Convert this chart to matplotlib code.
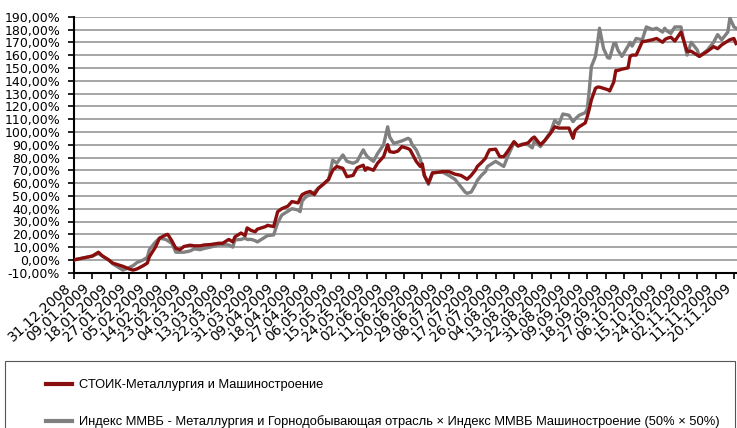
import matplotlib
matplotlib.use("Agg")
import matplotlib.pyplot as plt
from matplotlib.ticker import FuncFormatter, MultipleLocator
from matplotlib.lines import Line2D
from matplotlib.patches import Rectangle
from matplotlib import font_manager
import pandas as pd

dates = [
    "2008-12-31", "2009-01-03", "2009-01-06", "2009-01-09", "2009-01-12", "2009-01-14",
    "2009-01-17", "2009-01-19", "2009-01-22", "2009-01-24", "2009-01-27", "2009-01-29",
    "2009-01-31", "2009-02-03", "2009-02-05", "2009-02-06", "2009-02-09", "2009-02-11",
    "2009-02-14", "2009-02-15", "2009-02-17", "2009-02-19", "2009-02-21", "2009-02-23",
    "2009-02-26", "2009-02-28", "2009-03-03", "2009-03-05", "2009-03-08", "2009-03-12",
    "2009-03-14", "2009-03-17", "2009-03-19", "2009-03-20", "2009-03-23", "2009-03-25",
    "2009-03-26", "2009-03-28", "2009-03-30", "2009-03-31", "2009-04-02", "2009-04-04",
    "2009-04-05", "2009-04-08", "2009-04-10", "2009-04-12", "2009-04-15", "2009-04-17",
    "2009-04-20", "2009-04-21", "2009-04-22", "2009-04-24", "2009-04-26", "2009-04-28",
    "2009-04-30", "2009-05-02", "2009-05-05", "2009-05-07", "2009-05-09", "2009-05-12",
    "2009-05-14", "2009-05-17", "2009-05-19", "2009-05-22", "2009-05-23", "2009-05-24",
    "2009-05-27", "2009-05-29", "2009-06-01", "2009-06-03", "2009-06-04", "2009-06-06",
    "2009-06-08", "2009-06-10", "2009-06-13", "2009-06-14", "2009-06-15", "2009-06-17",
    "2009-06-19", "2009-06-20", "2009-06-21", "2009-06-23", "2009-06-25", "2009-06-28",
    "2009-06-30", "2009-07-03", "2009-07-06", "2009-07-09", "2009-07-11", "2009-07-12",
    "2009-07-14", "2009-07-16", "2009-07-17", "2009-07-19", "2009-07-21", "2009-07-22",
    "2009-07-23", "2009-07-26", "2009-07-28", "2009-07-30", "2009-08-01", "2009-08-04",
    "2009-08-06", "2009-08-08", "2009-08-11", "2009-08-13", "2009-08-14", "2009-08-17",
    "2009-08-19", "2009-08-22", "2009-08-24", "2009-08-26", "2009-08-28", "2009-08-31",
    "2009-09-02", "2009-09-03", "2009-09-05", "2009-09-08", "2009-09-09", "2009-09-10",
    "2009-09-11", "2009-09-13", "2009-09-14", "2009-09-15", "2009-09-17", "2009-09-19",
    "2009-09-20", "2009-09-22", "2009-09-23", "2009-09-24", "2009-09-26", "2009-09-29",
    "2009-09-30", "2009-10-01", "2009-10-03", "2009-10-06", "2009-10-08", "2009-10-11",
    "2009-10-13", "2009-10-16", "2009-10-17", "2009-10-18", "2009-10-20", "2009-10-22",
    "2009-10-25", "2009-10-26", "2009-10-28", "2009-10-30", "2009-11-02", "2009-11-03",
    "2009-11-07", "2009-11-10", "2009-11-12", "2009-11-14", "2009-11-17", "2009-11-18",
    "2009-11-20", "2009-11-21",
]

stoik = [
    0, 1, 2, 3, 6, 3,
    0, -2.5, -4, -5, -7, -8,
    -7, -4.5, -2.5, 2.5, 10, 17,
    19.5, 20, 15, 9, 8, 10.5,
    11.5, 11, 11, 11.7, 12, 13,
    13, 16, 14, 18, 21, 19,
    25, 23, 22, 24, 25, 26,
    27, 26, 37.7, 40, 42, 45.6,
    44.5, 48, 51, 52.6, 53.5, 51,
    56, 58.6, 63, 70, 73, 71.5,
    65, 66, 72, 74, 70, 72,
    70, 75.5, 80.7, 90, 84.6, 84,
    85, 88.5, 87, 86, 83, 77,
    73, 75, 66, 60, 68, 68.5,
    69, 69, 67, 66, 64, 63,
    66, 70, 73, 76, 79.4, 83,
    86, 86.5, 80.7, 80.7, 85, 92.4,
    89, 90, 91.5, 95, 96, 90,
    93, 99, 104, 103, 103, 103,
    95, 101, 104, 107, 112, 118,
    125, 134, 135, 135, 134, 133,
    132, 139, 148, 148, 149, 150,
    159, 160, 160, 170.5, 171, 172,
    173, 170, 172, 173, 174, 171,
    178, 173, 163, 163, 160, 159,
    163, 166.6, 165, 168, 171, 172,
    173, 169,
]

micex = [
    0, 1, 2, 3, 5, 3,
    0, -3, -6, -8, -6, -4.5,
    -2, 0, 2, 8, 14, 17,
    16, 15, 13, 6, 6, 6,
    7, 8.6, 8, 9, 10, 11.7,
    12, 11.7, 10, 15.6, 16, 17,
    16, 16, 15, 14, 16, 18,
    19, 19.5, 29, 35, 38, 40,
    39, 37.7, 46, 49.5, 51, 53,
    56, 58.6, 62.5, 78, 75.5, 82,
    77, 75.5, 77, 86, 83, 80.7,
    77, 83, 90, 104, 96, 91,
    92, 93, 95, 94, 90, 86,
    79, 72, 66, 59, 68, 68.5,
    68.5, 66, 63, 57, 53, 52,
    53, 58.6, 62, 66, 69, 73,
    74, 77, 75, 73, 81, 91.5,
    89, 90.5, 90, 87.5, 93, 88.5,
    93, 100, 109, 106, 114, 113,
    108, 110, 113, 115, 118, 133,
    151, 159, 169, 181, 165, 158,
    157.6, 169, 169, 164, 159, 167,
    170, 167, 173, 172, 182, 180,
    181, 178, 181, 179, 177, 182,
    182, 174, 160, 170, 164, 159,
    164, 170, 176, 172, 178, 189,
    182, 181,
]

series_labels = [
    "СТОИК-Металлургия и Машиностроение",
    "Индекс ММВБ - Металлургия и Горнодобывающая отрасль × Индекс ММВБ Машиностроение (50% × 50%)",
]
colors = ["#8B0E0E", "#808080"]

start = pd.Timestamp("2008-12-31")
tick_dates = pd.date_range(start, "2009-11-20", freq="9D")
x = pd.to_datetime(dates)

W, H = 737, 428
fig = plt.figure(figsize=(W / 100, H / 100), dpi=100)
ax = fig.add_axes([74 / W, 1 - 272.7 / H, (W - 74) / W, (272.7 - 16.7) / H])

ax.plot(x, micex, color=colors[1], lw=2.4, solid_joinstyle="round", zorder=3)
ax.plot(x, stoik, color=colors[0], lw=2.4, solid_joinstyle="round", zorder=4)

ax.set_ylim(-10, 190)
ax.yaxis.set_major_locator(MultipleLocator(10))
ax.yaxis.set_major_formatter(FuncFormatter(lambda v, p: f"{v:.2f}".replace(".", ",") + "%"))
ax.set_xlim(start, start + pd.Timedelta(days=325.5))
ax.set_xticks(tick_dates)
ax.set_xticklabels([d.strftime("%d.%m.%Y") for d in tick_dates], rotation=42,
                   ha="right", va="top", rotation_mode="default")

ax.grid(axis="y", color="#A6A6A6", lw=1.4)
ax.set_axisbelow(True)
for s in ["top", "right"]:
    ax.spines[s].set_visible(False)
for s in ["left", "bottom"]:
    ax.spines[s].set_linewidth(1.5)
    ax.spines[s].set_color("black")
ax.tick_params(axis="both", direction="out", length=4, width=1.2,
               colors="black")
ax.tick_params(axis="y", pad=6, labelsize=9)
ax.tick_params(axis="x", pad=2, labelsize=10)

# legend font: prefer a narrow family
leg_family = "Liberation Sans"
for cand in ["Liberation Sans Narrow", "Liberation Sans"]:
    try:
        font_manager.findfont(cand, fallback_to_default=False)
        leg_family = cand
        break
    except Exception:
        continue

renderer = fig.canvas.get_renderer()
probe = fig.text(0, 0, series_labels[1], family=leg_family, size=10)
wpx = probe.get_window_extent(renderer).width
probe.remove()
leg_size = min(11, 10 * 645 / wpx)

fig.patches.append(Rectangle((5 / W, -0.1), 730 / W, 0.1 + (H - 361) / H,
                             transform=fig.transFigure, fill=False, ec="#555555",
                             lw=0.8, clip_on=False))
handles = [Line2D([], [], color=c, lw=3) for c in colors]
fig.legend(handles, series_labels, loc="upper left",
           bbox_to_anchor=(40 / W, 1 - 373 / H), frameon=False,
           prop={"family": leg_family, "size": leg_size},
           handlelength=2.0, handletextpad=0.5, labelspacing=1.85, borderpad=0)

fig.savefig("out.png", dpi=100)
